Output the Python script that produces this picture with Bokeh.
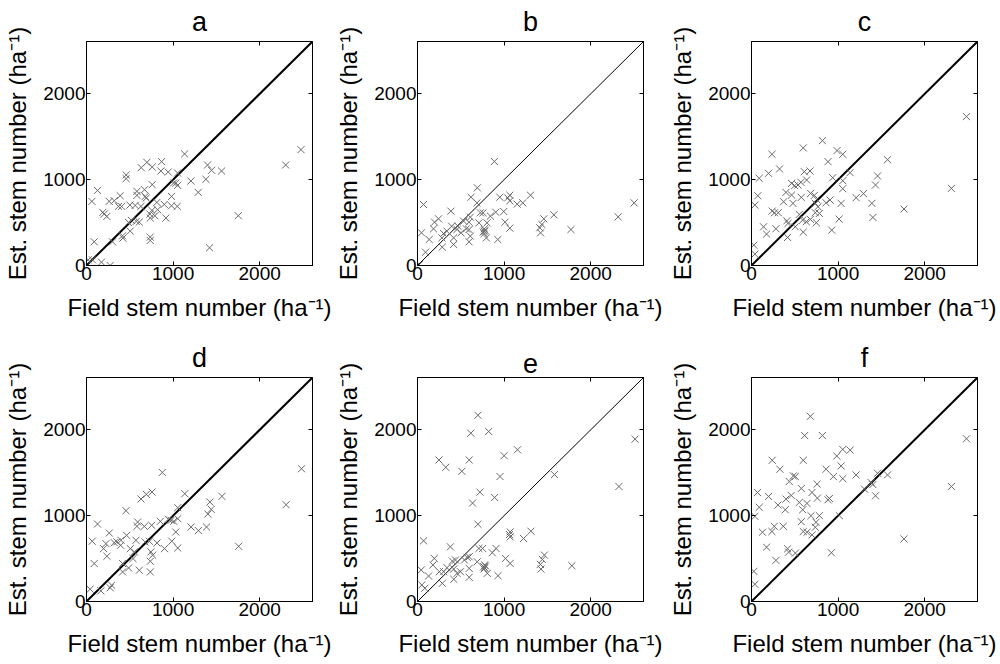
from bokeh.plotting import figure
from bokeh.models import LinearAxis, FixedTicker, Range1d
from bokeh.layouts import row, column
from bokeh.embed import file_html
from bokeh.resources import INLINE

AX_MAX = 2610
TICKS = [0, 1000, 2000]
XLABEL = "Field stem number (ha\u207b\u00b9)"
YLABEL = "Est. stem number (ha\u207b\u00b9)"
PANEL_TITLES = ["a", "b", "c", "d", "e", "f"]

xa = [2477, 2300, 1398, 1444, 1560, 1379, 1290, 1206, 1133, 1052, 1032, 1052, 1005, 982, 1048, 1753, 1421, 944, 859, 867,
      759, 697, 632, 759, 670, 678, 582, 582, 458, 458, 389, 127, 62, 262, 320, 370, 405, 501, 562, 628,
      813, 898, 982, 821, 755, 732, 736, 790, 917, 189, 235, 204, 485, 520, 574, 609, 505, 416, 420, 736,
      736, 89, 300, 173, 273, 19, 69, 690]
ya = [1350, 1171, 1171, 1109, 1101, 1004, 852, 984, 1300, 1078, 961, 934, 961, 805, 689, 580, 206, 1089, 1101, 1210,
      1148, 1202, 1140, 942, 883, 805, 864, 817, 1054, 1012, 813, 875, 747, 747, 755, 689, 689, 704, 700, 689,
      735, 712, 696, 650, 642, 599, 553, 580, 553, 619, 572, 599, 502, 525, 514, 506, 401, 346, 319, 331,
      292, 276, 276, 39, 0, 66, 66, 786]

xb = [2502, 2317, 1772, 1575, 1459, 1436, 1413, 1421, 1305, 1216, 1151, 1066, 1042, 1066, 950, 888, 996, 1011, 1066, 903,
      842, 803, 927, 795, 772, 772, 757, 726, 691, 618, 687, 710, 610, 595, 595, 595, 533, 564, 502, 456,
      467, 417, 417, 386, 394, 340, 301, 286, 243, 197, 185, 135, 69, 46, 93, 23, 610, 282, 760, 780, 768]
yb = [730, 567, 419, 590, 544, 478, 439, 381, 819, 730, 715, 819, 788, 753, 796, 1212, 629, 505, 435, 621,
      575, 497, 303, 322, 427, 400, 614, 614, 905, 796, 730, 497, 563, 505, 419, 276, 517, 427, 381, 419,
      458, 322, 245, 633, 458, 400, 373, 214, 544, 505, 427, 303, 711, 381, 155, 12, 342, 322, 390, 410, 370]

xc = [2483, 2309, 1761, 1571, 1456, 1432, 1390, 1402, 1293, 1208, 1139, 1054, 988, 1054, 1054, 1035, 1012, 938, 884, 819,
      598, 236, 324, 197, 89, 73, 39, 371, 398, 463, 463, 498, 537, 571, 637, 610, 676, 683, 726, 575,
      479, 737, 753, 784, 768, 861, 907, 239, 266, 309, 409, 421, 552, 591, 680, 749, 737, 139, 282, 174,
      417, 598, 927, 27, 39, 506, 633]
yc = [1735, 899, 658, 1233, 1043, 938, 724, 560, 837, 790, 1082, 1296, 1339, 988, 895, 724, 541, 1023, 1210, 1455,
      1370, 1296, 1125, 1074, 1016, 813, 704, 743, 852, 957, 821, 930, 938, 969, 996, 1093, 1101, 840, 817, 794,
      724, 724, 770, 607, 685, 731, 763, 634, 615, 615, 521, 490, 595, 529, 537, 498, 615, 451, 428, 366,
      327, 389, 412, 237, 132, 451, 510]

xd = [2483, 2305, 1757, 1564, 1425, 1440, 1402, 1386, 1293, 1208, 1135, 1054, 1054, 1008, 977, 1031, 1054, 985, 946, 853,
      876, 757, 691, 629, 456, 591, 583, 668, 753, 815, 900, 726, 745, 764, 737, 737, 610, 486, 417, 417,
      537, 552, 506, 571, 676, 463, 398, 351, 320, 394, 263, 224, 197, 236, 127, 66, 89, 42, 166, 290, 274]
yd = [1547, 1128, 643, 1225, 1159, 1074, 1019, 868, 826, 868, 1256, 1093, 965, 934, 946, 810, 624, 702, 957, 934,
      1504, 1275, 1248, 1194, 1058, 926, 876, 876, 888, 682, 616, 702, 578, 539, 469, 345, 364, 391, 345, 442,
      500, 578, 616, 713, 694, 771, 713, 694, 686, 655, 798, 674, 616, 527, 903, 702, 442, 143, 124, 190, 159]

xe = [2512, 2326, 1783, 1581, 1465, 1442, 1419, 1426, 1310, 1225, 1155, 1000, 1070, 1062, 1070, 953, 1016, 1070, 891, 930,
      907, 864, 822, 698, 616, 597, 512, 326, 248, 721, 636, 698, 709, 752, 775, 775, 806, 690, 597, 574,
      543, 496, 597, 597, 438, 419, 380, 403, 341, 287, 302, 252, 194, 178, 128, 70, 43, 50, 85, 419, 457,
      765, 785, 770]
ye = [1892, 1340, 417, 1479, 541, 490, 432, 378, 819, 734, 1768, 1699, 811, 780, 753, 1456, 502, 444, 1212, 301,
      618, 568, 1981, 2170, 1961, 1649, 1517, 1564, 1649, 1274, 1147, 900, 618, 618, 425, 394, 328, 463, 521, 514,
      483, 347, 386, 282, 483, 378, 637, 471, 394, 212, 347, 347, 502, 425, 297, 707, 367, 193, 154, 259, 328,
      405, 415, 380]

xf = [2483, 2309, 1761, 1571, 1456, 1432, 1402, 1382, 1305, 1208, 1139, 1054, 985, 1035, 1054, 946, 1015, 861, 757, 900,
      884, 923, 819, 680, 614, 598, 239, 328, 436, 483, 506, 459, 575, 699, 761, 641, 552, 398, 390, 305,
      197, 69, 89, 39, 127, 236, 263, 367, 575, 591, 687, 784, 745, 737, 598, 641, 699, 174, 417, 429,
      506, 282, 27, 39]
yf = [1896, 1340, 730, 1475, 1494, 1232, 1363, 1386, 1309, 1475, 1764, 1772, 1695, 1579, 1432, 1456, 1000, 1541, 1367, 1201,
      1185, 568, 1934, 2158, 1934, 1645, 1645, 1541, 1398, 1463, 1456, 1236, 1317, 1270, 1205, 1143, 1154, 1193, 1069, 1124,
      1224, 1270, 1097, 992, 807, 815, 876, 876, 930, 1069, 1000, 1000, 923, 865, 815, 807, 776, 633, 614, 575,
      564, 479, 351, 201]

PANEL_X = [xa, xb, xc, xd, xe, xf]
PANEL_Y = [ya, yb, yc, yd, ye, yf]
DIAG_WIDTH = [2, 1, 2, 2, 1, 2]

FONT = "Liberation Sans"
MARKER_COLOR = "#6a6a6a"


def style_axis(ax, show, label_standoff=0):
    ax.ticker = FixedTicker(ticks=TICKS)
    ax.minor_tick_line_color = None
    ax.major_tick_in = 4
    ax.major_tick_out = 0
    ax.major_tick_line_color = "black"
    ax.axis_line_color = "black"
    if show:
        ax.major_label_text_font = FONT
        ax.major_label_text_font_size = "19px"
        ax.major_label_text_color = "black"
        ax.major_label_standoff = 1
        ax.axis_label_text_font = FONT
        ax.axis_label_text_font_size = "24px"
        ax.axis_label_text_font_style = "normal"
        ax.axis_label_text_color = "black"
        ax.axis_label_standoff = label_standoff
    else:
        ax.major_label_text_font_size = "1px"
        ax.major_label_text_color = None
        ax.major_label_standoff = 0


def make_panel(i):
    col = i % 3
    r = i // 3
    bl = 86
    br = [19, 22, 23][col]
    bt = [41, 40][r]
    bb = [72, 5][r]
    p = figure(frame_width=226, frame_height=224,
               x_range=Range1d(0, AX_MAX), y_range=Range1d(0, AX_MAX),
               output_backend="svg", toolbar_location=None,
               min_border_left=bl, min_border_right=br,
               min_border_top=bt, min_border_bottom=bb,
               x_axis_label=XLABEL, y_axis_label=YLABEL,
               title=PANEL_TITLES[i])
    p.title.align = "center"
    p.title.vertical_align = "top"
    p.title.text_font = FONT
    p.title.text_font_size = "27px"
    p.title.text_font_style = "normal"
    p.title.text_color = "black"
    p.title.standoff = 6
    p.xgrid.grid_line_color = None
    p.ygrid.grid_line_color = None
    p.outline_line_color = "black"
    p.background_fill_color = "white"
    p.border_fill_color = "white"
    style_axis(p.xaxis[0], True, 11)
    style_axis(p.yaxis[0], True, 9)
    top = LinearAxis()
    right = LinearAxis()
    style_axis(top, False)
    style_axis(right, False)
    p.add_layout(top, "above")
    p.add_layout(right, "right")

    diag = [0, AX_MAX]
    p.line(diag, diag, line_color="black", line_width=DIAG_WIDTH[i])
    p.scatter(PANEL_X[i], PANEL_Y[i], marker="x", size=10,
              line_color=MARKER_COLOR, line_width=1)
    return p


panels = [make_panel(i) for i in range(6)]
layout = column(row(*panels[:3]), row(*panels[3:]))

open("out.html", "w").write(file_html(layout, INLINE, title="Stem number comparison"))
